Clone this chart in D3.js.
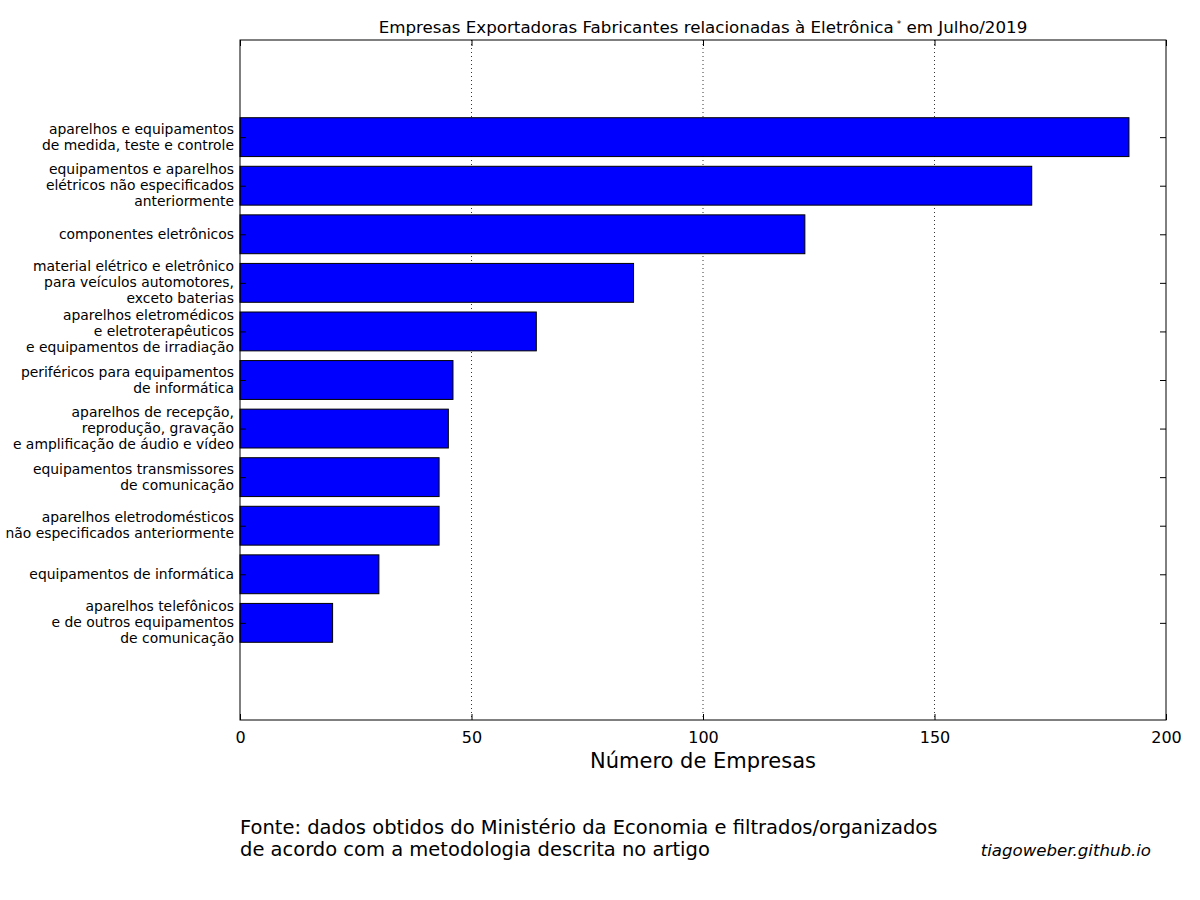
<!DOCTYPE html>
<html>
<head>
<meta charset="utf-8">
<script src="https://cdn.jsdelivr.net/npm/d3@7"></script>
<style>
  body { margin: 0; background: #fff; }
  svg text { font-family: "DejaVu Sans", sans-serif; fill: #000; }
</style>
</head>
<body>
<svg id="chart" width="1200" height="900"></svg>
<script>
// categories, top to bottom (multi-line labels split on \n)
var categories = [
  "aparelhos e equipamentos\nde medida, teste e controle",
  "equipamentos e aparelhos\nelétricos não especificados\nanteriormente",
  "componentes eletrônicos",
  "material elétrico e eletrônico\npara veículos automotores,\nexceto baterias",
  "aparelhos eletromédicos\ne eletroterapêuticos\ne equipamentos de irradiação",
  "periféricos para equipamentos\nde informática",
  "aparelhos de recepção,\nreprodução, gravação\ne amplificação de áudio e vídeo",
  "equipamentos transmissores\nde comunicação",
  "aparelhos eletrodomésticos\nnão especificados anteriormente",
  "equipamentos de informática",
  "aparelhos telefônicos\ne de outros equipamentos\nde comunicação"
];
var companies = [192, 171, 122, 85, 64, 46, 45, 43, 43, 30, 20];
var xTicks = [0, 50, 100, 150, 200];
var gridTicks = [50, 100, 150];

var plot = { left: 240, right: 1166, top: 40, bottom: 720 };

var svg = d3.select("#chart");

var x = d3.scaleLinear().domain([0, 200]).range([plot.left, plot.right]);
// bar index as position, with two empty slots above and below
var y = d3.scaleLinear().domain([-2, categories.length + 1]).range([plot.top, plot.bottom]);
var barH = (y(1) - y(0)) * 0.8;

// dotted vertical grid
svg.append("g").selectAll("line")
  .data(gridTicks)
.enter().append("line")
  .attr("x1", function(d) { return x(d); })
  .attr("x2", function(d) { return x(d); })
  .attr("y1", plot.top)
  .attr("y2", plot.bottom)
  .attr("stroke", "#000")
  .attr("stroke-width", 0.8)
  .attr("stroke-dasharray", "1,3");

// bars
svg.append("g").selectAll("rect")
  .data(companies)
.enter().append("rect")
  .attr("x", x(0))
  .attr("y", function(d, i) { return y(i) - barH / 2; })
  .attr("width", function(d) { return x(d) - x(0); })
  .attr("height", barH)
  .attr("fill", "#0000ff")
  .attr("stroke", "#000")
  .attr("stroke-width", 1);

// axes (ticks pointing inward, like matplotlib classic)
var xAxisB = d3.axisBottom(x).tickValues(xTicks).tickSizeInner(-6).tickSizeOuter(0).tickPadding(12);
var gB = svg.append("g").attr("transform", "translate(0," + plot.bottom + ")").call(xAxisB);
var xAxisT = d3.axisTop(x).tickValues(xTicks).tickSizeInner(-6).tickSizeOuter(0).tickFormat("");
var gT = svg.append("g").attr("transform", "translate(0," + plot.top + ")").call(xAxisT);

var idx = d3.range(categories.length);
var yAxisL = d3.axisLeft(y).tickValues(idx).tickSizeInner(-6).tickSizeOuter(0).tickFormat("");
var gL = svg.append("g").attr("transform", "translate(" + plot.left + ",0)").call(yAxisL);
var yAxisR = d3.axisRight(y).tickValues(idx).tickSizeInner(-6).tickSizeOuter(0).tickFormat("");
var gR = svg.append("g").attr("transform", "translate(" + plot.right + ",0)").call(yAxisR);

[gB, gT, gL, gR].forEach(function(g) {
  g.select(".domain").remove();
  g.selectAll(".tick line").attr("stroke", "#000").attr("stroke-width", 1);
});
gB.selectAll(".tick text")
  .style("font-family", "DejaVu Sans")
  .style("font-size", "16px")
  .attr("fill", "#000");

// frame
svg.append("rect")
  .attr("x", plot.left).attr("y", plot.top)
  .attr("width", plot.right - plot.left).attr("height", plot.bottom - plot.top)
  .attr("fill", "none").attr("stroke", "#000").attr("stroke-width", 1);

// category labels
var lineH = 16;
svg.append("g").selectAll("text")
  .data(categories)
.enter().append("text")
  .attr("text-anchor", "end")
  .attr("font-size", 13.9)
  .each(function(d, i) {
    var lines = d.split("\n");
    var t = d3.select(this);
    var y0 = y(i) - (lines.length - 1) * lineH / 2 + 4.5;
    lines.forEach(function(s, k) {
      t.append("tspan").attr("x", plot.left - 6).attr("y", y0 + k * lineH).text(s);
    });
  });

// title
var title = svg.append("text")
  .attr("x", x(100))
  .attr("y", 33)
  .attr("text-anchor", "middle")
  .attr("font-size", 16.7);
title.append("tspan").text("Empresas Exportadoras Fabricantes relacionadas à Eletrônica");
title.append("tspan").attr("font-size", 9).attr("dy", -6).text(" *");
title.append("tspan").attr("dy", 6).text("  em Julho/2019");

// axis label
svg.append("text")
  .attr("x", x(100))
  .attr("y", 768)
  .attr("text-anchor", "middle")
  .attr("font-size", 21)
  .text("Número de Empresas");

// footer
svg.append("text").attr("x", 240).attr("y", 834).attr("font-size", 19.5)
  .text("Fonte: dados obtidos do Ministério da Economia e filtrados/organizados");
svg.append("text").attr("x", 240).attr("y", 856).attr("font-size", 19.5)
  .text("de acordo com a metodologia descrita no artigo");
svg.append("text").attr("x", 1151).attr("y", 856).attr("font-size", 16.6)
  .attr("text-anchor", "end").attr("font-style", "italic")
  .text("tiagoweber.github.io");
</script>
</body>
</html>
